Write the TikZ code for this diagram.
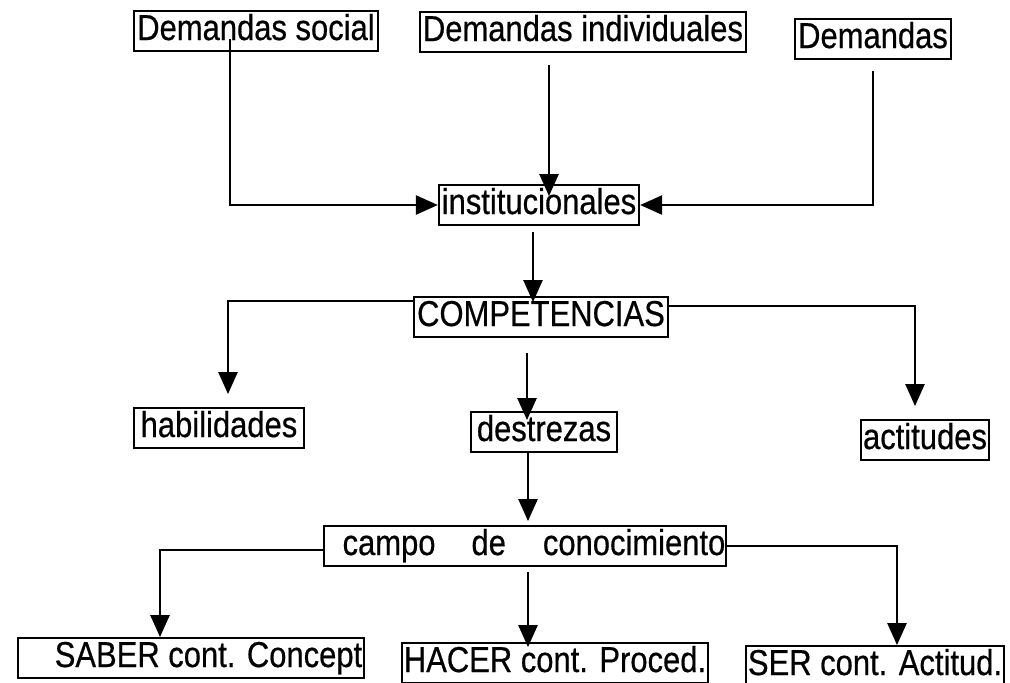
\documentclass[tikz,border=0pt]{standalone}
\usepackage{fontspec}
\setmainfont{Liberation Sans}[FakeStretch=0.86,FakeBold=0.5]
\usetikzlibrary{arrows.meta,calc}
\begin{document}
\begin{tikzpicture}[x=1pt,y=-1pt,
  box/.style={draw=black,line width=1.8pt,inner xsep=3pt,inner ysep=3pt,
    text height=26pt,text depth=8pt,font=\fontsize{36}{40}\selectfont},
  arr/.style={line width=2.4pt,-{Triangle[length=22pt,width=19pt]}}]
\useasboundingbox (0,0) rectangle (1010,683);
\fill[white] (0,0) rectangle (1010,683);
% nodes
\node[box] (ds) at (256,31) {Demandas social};
\node[box] (di) at (583,32) {Demandas individuales};
\node[box] (dd) at (873,39) {Demandas};
\node[box] (inst) at (539,205) {institucionales};
\node[box] (comp) at (541,317) {COMPETENCIAS};
\node[box,inner xsep=7pt] (hab) at (219,428) {habilidades};
\node[box,inner xsep=6pt] (des) at (544,432) {destrezas};
\node[box,inner xsep=2pt] (act) at (925,440) {actitudes};
\node[box,inner xsep=1pt] (campo) at (525,546) {\hspace{18pt}campo\hspace{36pt}de\hspace{37pt}conocimiento};
\node[box,inner xsep=2pt] (saber) at (191,658) {\hspace{35pt}SABER cont. Concept\hspace{14pt}};
\node[box,inner xsep=2pt] (hacer) at (555,663) {HACER cont. Proced.};
\node[box,inner xsep=2pt] (ser) at (875,666) {SER cont. Actitud.};
% connectors
\draw[arr] ([xshift=-26pt,yshift=13pt]ds.south) |- (inst.west);
\draw[arr] ([xshift=-34pt,yshift=-12pt]di.south) -- ([xshift=-34pt,yshift=-12pt]di.south |- inst.north);
\draw[arr] ([yshift=-11pt]dd.south) |- (inst.east);
\draw[arr] ([xshift=-6pt,yshift=-6pt]inst.south) -- ([xshift=-6pt,yshift=-6pt]inst.south |- comp.north);
\draw[arr,shorten >=13pt] ([yshift=-5pt]comp.north west) -| ([xshift=9pt]hab.north);
\draw[arr,shorten >=13pt] ([yshift=11pt]comp.east) -| ([xshift=-10pt]act.north);
\draw[arr,shorten >=6pt] ([xshift=-14pt,yshift=-15pt]comp.south) -- ([xshift=-14pt,yshift=-15pt]comp.south |- des.north);
\draw[arr,shorten >=4pt] ([xshift=-16pt]des.south) -- ([xshift=-16pt]des.south |- campo.north);
\draw[arr] ([yshift=-4pt]campo.west) -| ([xshift=-31pt]saber.north);
\draw[arr] ([xshift=3pt,yshift=-5pt]campo.south) -- ([xshift=3pt,yshift=-5pt]campo.south |- hacer.north);
\draw[arr] (campo.east) -| ([xshift=22pt]ser.north);
\end{tikzpicture}
\end{document}
